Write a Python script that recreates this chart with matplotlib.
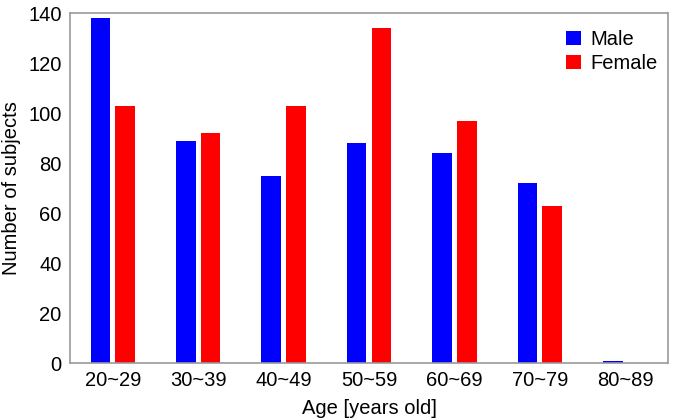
import numpy as np
from matplotlib import pyplot as plt

plt.rcParams['font.family'] = ['Liberation Sans', 'DejaVu Sans']

# Age groups and subject counts
age_groups = ['20~29', '30~39', '40~49', '50~59', '60~69', '70~79', '80~89']
male = [138, 89, 75, 88, 84, 72, 1]
female = [103, 92, 103, 134, 97, 63, 0]

x = np.arange(len(age_groups))
w = 0.23

fig = plt.figure(figsize=(6.76, 4.2), dpi=100)
ax = fig.add_axes([0.1036, 0.1357, 0.8844, 0.8333])

ax.bar(x - 0.145, male, w, color='#0000ff', label='Male')
ax.bar(x + 0.145, female, w, color='#ff0000', label='Female')

ax.set_xlim(-0.5, 6.5)
ax.set_ylim(0, 140)
ax.set_yticks(np.arange(0, 141, 20))
ax.set_xticks(x)
ax.set_xticklabels(age_groups)
ax.tick_params(length=0, labelsize=14.5, pad=6)

for s in ax.spines.values():
    s.set_color('#999999')
    s.set_linewidth(1.2)

ax.set_xlabel('Age [years old]', fontsize=14.5, labelpad=6)
ax.set_ylabel('Number of subjects', fontsize=14.5, labelpad=5)

# legend nudged toward the top-right corner
ax.legend(loc='upper right', bbox_to_anchor=(1.017, 1.009), frameon=False,
          fontsize=14.5, handlelength=0.7, handleheight=0.7, handletextpad=0.5,
          labelspacing=0.25, borderaxespad=0.6)

fig.savefig('out.png')
